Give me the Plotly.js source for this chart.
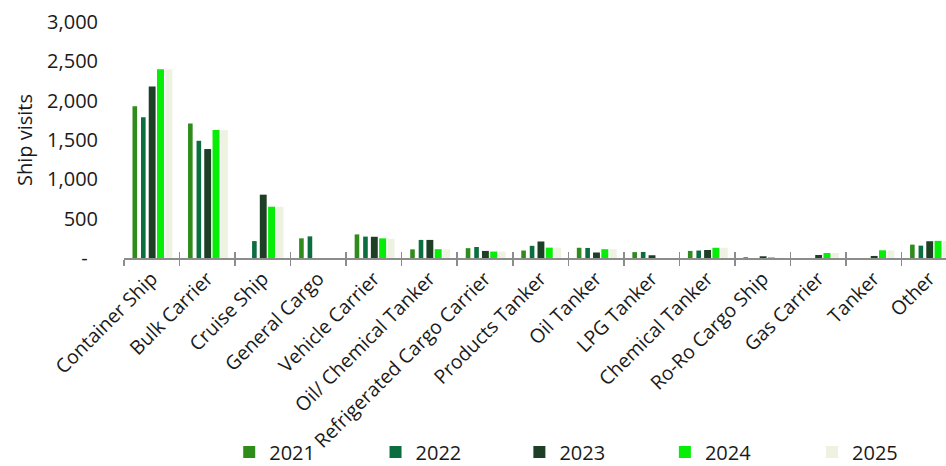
<!DOCTYPE html>
<html>
<head>
<meta charset="utf-8">
<script src="https://cdn.plot.ly/plotly-3.0.1.min.js"></script>
<style>
  html, body { margin: 0; padding: 0; background: #ffffff; }
  #chart { width: 946px; height: 466px; }
</style>
</head>
<body>
<div id="chart"></div>
<script>
// Ship visits by vessel type, 2021–2025
const categories = [
  'Container Ship', 'Bulk Carrier', 'Cruise Ship', 'General Cargo', 'Vehicle Carrier',
  'Oil/ Chemical Tanker', 'Refrigerated Cargo Carrier', 'Products Tanker', 'Oil Tanker',
  'LPG Tanker', 'Chemical Tanker', 'Ro-Ro Cargo Ship', 'Gas Carrier', 'Tanker', 'Other'
];
const years = ['2021', '2022', '2023', '2024', '2025'];
const visits2021 = [1930, 1710, 0, 250, 300, 110, 125, 95, 130, 75, 90, 10, 0, 0, 170];
const visits2022 = [1790, 1490, 215, 275, 272, 230, 140, 155, 128, 77, 95, 0, 0, 0, 157];
const visits2023 = [2180, 1385, 805, 0, 270, 230, 90, 210, 70, 35, 102, 22, 38, 26, 213];
const visits2024 = [2400, 1628, 652, 0, 250, 112, 82, 132, 112, 0, 130, 8, 64, 98, 218];
const visits2025 = [2400, 1628, 652, 0, 245, 110, 82, 132, 112, 0, 130, 4, 64, 98, 218];
const yTickVals = [0, 500, 1000, 1500, 2000, 2500, 3000];
const yTickText = ['-\u00a0\u00a0', '500', '1,000', '1,500', '2,000', '2,500', '3,000'];

const series = [visits2021, visits2022, visits2023, visits2024, visits2025];
const colors = ['#2f8c1b', '#0b6e3f', '#1d3f26', '#06ee06', '#eef3e1'];
// per-series bar placement within a category (offset from centre, width), in category units
const offsets = [-0.347, -0.194, -0.055, 0.094, 0.245];
const widths = [0.083, 0.083, 0.124, 0.126, 0.126];
// one single-entry legend per year, spread along the bottom (paper x)
const legendNames = ['legend', 'legend2', 'legend3', 'legend4', 'legend5'];
const legendX = [0.128, 0.306, 0.481, 0.658, 0.837];

const font = { family: '"Open Sans", "Noto Sans", sans-serif', color: '#1a1a1a' };
const axisGrey = '#8c8c8c';
const sized = (s) => Object.assign({ size: s }, font);

const traces = series.map((vals, i) => ({
  type: 'bar',
  name: years[i],
  x: categories,
  y: vals,
  offset: offsets[i],
  width: widths[i],
  legend: legendNames[i],
  marker: { color: colors[i], line: { width: 0 } },
  hoverinfo: 'x+y+name'
}));

// companion axis carrying the upward half of the boundary ticks
traces.push({
  type: 'scatter', mode: 'markers', x: [], y: [],
  xaxis: 'x2', yaxis: 'y', showlegend: false, hoverinfo: 'skip'
});

const xRange = [-0.5, 14.3];
const boundaryTicks = categories.map((_, i) => i - 0.5).concat([categories.length - 0.5]);

const layout = {
  width: 946,
  height: 466,
  margin: { l: 124, r: 0, t: 22, b: 208, autoexpand: false },
  paper_bgcolor: '#ffffff',
  plot_bgcolor: '#ffffff',
  font: sized(20),
  barmode: 'overlay',
  showlegend: true,
  xaxis: {
    type: 'category',
    range: xRange,
    automargin: false,
    tickson: 'boundaries',
    ticks: 'outside',
    ticklen: 6,
    tickwidth: 1.5,
    tickcolor: axisGrey,
    showline: true,
    linecolor: axisGrey,
    linewidth: 1.5,
    showgrid: false,
    tickangle: -45,
    tickfont: sized(19.5),
    fixedrange: true
  },
  xaxis2: {
    type: 'linear',
    overlaying: 'x',
    anchor: 'y',
    side: 'bottom',
    range: xRange,
    automargin: false,
    tickmode: 'array',
    tickvals: boundaryTicks,
    ticks: 'inside',
    ticklen: 6,
    tickwidth: 1.5,
    tickcolor: axisGrey,
    showticklabels: false,
    showline: false,
    showgrid: false,
    zeroline: false,
    fixedrange: true
  },
  yaxis: {
    range: [0, 3000],
    automargin: false,
    tickmode: 'array',
    tickvals: yTickVals,
    ticktext: yTickText,
    ticks: '',
    ticklabelstandoff: 25,
    showline: false,
    showgrid: false,
    zeroline: false,
    tickfont: sized(20),
    title: { text: 'Ship visits', font: sized(20), standoff: 9 },
    fixedrange: true
  }
};

legendNames.forEach((name, i) => {
  layout[name] = {
    orientation: 'h',
    x: legendX[i],
    xanchor: 'left',
    y: -0.822,
    yanchor: 'middle',
    font: sized(20),
    bgcolor: 'rgba(0,0,0,0)'
  };
});

Plotly.newPlot('chart', traces, layout, { displayModeBar: false, staticPlot: true });
</script>
</body>
</html>
